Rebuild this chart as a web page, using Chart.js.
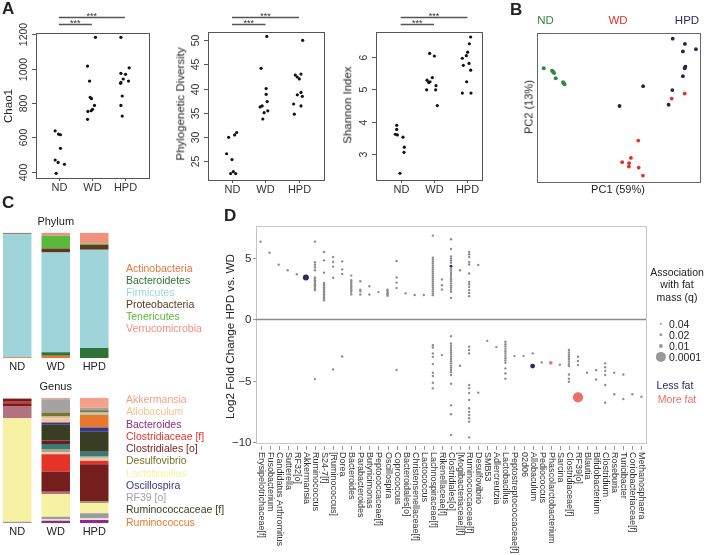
<!DOCTYPE html>
<html>
<head>
<meta charset="utf-8">
<script src="https://cdn.jsdelivr.net/npm/chart.js@4.4.1/dist/chart.umd.min.js"></script>
<style>
  body { margin: 0; background: #fff; }
  #fig { position: relative; width: 704px; height: 555px; overflow: hidden;
         font-family: 'Liberation Sans', Arial, sans-serif; color: #222; }
  #fig canvas { position: absolute; }
  .lbl { position: absolute; white-space: nowrap; line-height: 1; transform: translate(-50%, -50%); }
  .rot { transform: translate(-50%, -50%) rotate(-90deg); }
  .lft { transform: translate(0, -50%); }
  .panel { position: absolute; font-weight: bold; font-size: 17px; line-height: 1; }
</style>
</head>
<body>
<div id="fig">
  <canvas id="chao" width="170" height="195" style="left:0;top:0"></canvas>
  <canvas id="pd" width="165" height="195" style="left:170px;top:0"></canvas>
  <canvas id="shan" width="170" height="195" style="left:335px;top:0"></canvas>
  <canvas id="pca" width="199" height="195" style="left:505px;top:0"></canvas>
  <canvas id="phylum" width="122" height="185" style="left:-2px;top:190px"></canvas>
  <canvas id="genus" width="122" height="185" style="left:-2px;top:370px"></canvas>
  <canvas id="fold" width="514" height="365" style="left:190px;top:190px"></canvas>
</div>
<script>
const groups = ['ND', 'WD', 'HPD'];

// A - alpha diversity, one value per mouse
const chaoND = [638, 619, 615, 536, 468, 454, 443, 390];
const chaoWD = [1183, 1015, 928, 833, 825, 786, 763, 755, 751, 705];
const chaoHPD = [1183, 1005, 973, 967, 940, 928, 920, 915, 841, 786, 724];
const pdND = [29.9, 30.4, 30.9, 26.5, 25.3, 22.4, 22.8, 22.4];
const pdWD = [50.8, 44.2, 40.0, 38.8, 37.3, 36.4, 36.2, 35.4, 35.0, 33.7];
const pdHPD = [50.0, 43.0, 42.8, 42.4, 42.0, 39.2, 38.7, 38.4, 36.8, 36.4, 34.7];
const shanND = [3.89, 3.76, 3.61, 3.59, 3.52, 3.21, 3.05, 2.40];
const shanWD = [6.12, 6.04, 5.37, 5.29, 5.22, 5.24, 5.12, 4.99, 4.99, 4.50];
const shanHPD = [6.63, 6.42, 6.16, 6.05, 5.97, 5.81, 5.75, 5.60, 5.24, 4.89, 4.89];
// horizontal jitter of the dots (group units), as drawn
const chaoJit = [[-0.11, -0.01, 0.05, 0.05, -0.11, -0.02, 0.17, -0.08],
  [0.11, -0.13, -0.07, -0.05, -0.01, 0.08, 0.02, -0.02, -0.12, -0.13],
  [-0.12, 0.13, -0.12, 0.02, -0.05, 0.11, -0.12, -0.13, -0.08, -0.12, -0.08]];
const pdJit = [[-0.1, 0.08, 0.14, -0.16, 0, -0.04, 0.04, 0.11],
  [0.04, -0.13, 0.02, 0.02, 0.05, -0.1, -0.16, 0.07, -0.04, -0.08],
  [0.11, 0.06, -0.11, -0.05, 0.01, 0.06, -0.05, 0.1, -0.16, 0.06, -0.14]];
const shanJit = [[-0.12, -0.12, -0.16, -0.1, 0.07, 0.11, 0.1, -0.02],
  [-0.13, 0.01, -0.05, -0.21, -0.16, -0.12, 0.06, -0.22, 0.05, 0.1],
  [0.1, 0.06, 0.01, -0.03, -0.15, 0.05, -0.12, 0.1, -0.02, -0.15, 0.11]];

// B - PCoA scores
const pcaNDx = [-0.367, -0.326, -0.321, -0.316, -0.308, -0.272, -0.269, -0.265];
const pcaNDy = [0.158, 0.148, 0.144, 0.139, 0.118, 0.102, 0.098, 0.094];
const pcaWDx = [0.261, 0.325, 0.097, 0.061, 0.018, 0.052, 0.051, 0.099, 0.120];
const pcaWDy = [0.036, 0.056, -0.133, -0.203, -0.220, -0.224, -0.238, -0.242, -0.274];
const pcaHPDx = [0.266, 0.326, 0.380, 0.316, 0.328, 0.325, 0.316, 0.121, 0.264, 0.246, 0.005];
const pcaHPDy = [0.277, 0.256, 0.235, 0.226, 0.165, 0.158, 0.126, 0.086, 0.070, 0.011, 0.006];

// C - relative abundance (%)
const phyla = ['Actinobacteria', 'Bacteroidetes', 'Firmicutes', 'Proteobacteria', 'Tenericutes', 'Verrucomicrobia'];
const phylumND = [0.8, 0.2, 98.2, 0.8, 0, 0];
const phylumWD = [2.1, 2.7, 79.5, 3.2, 10.1, 2.4];
const phylumHPD = [0.3, 8.0, 78.2, 4.0, 1.0, 8.5];
const phylumColors = ['#e8763c', '#2f7436', '#9fd4db', '#5b3a1f', '#5cb83b', '#f2907f'];

const genusTaxa = ['Bacteroides', 'Other 1', 'Other 2', 'Lactobacillus', 'Other 3', 'Other 4',
  'Clostridiales [o]', 'Clostridiaceae [f]', 'Other 5', 'Other 6', 'Other 7', 'Other 8',
  'Ruminococcaceae [f]', 'Oscillospira', 'Ruminococcus', 'Allobaculum', 'Other 9',
  'Desulfovibrio', 'RF39 [o]', 'Akkermansia'];
const genusND = [0, 0, 1.3, 82.3, 0, 9.8, 2.1, 1.3, 0, 0, 0, 2.4, 0, 0, 0, 0.8, 0, 0, 0, 0];
const genusWD = [2.1, 1.3, 1.9, 18.0, 0, 1.9, 15.9, 13.8, 1.6, 2.7, 4.0, 2.7, 12.5, 1.9, 0, 3.4, 1.3, 3.2, 10.5, 1.3];
const genusHPD = [2.7, 1.3, 4.0, 8.0, 1.3, 0, 29.8, 2.7, 2.4, 1.3, 3.4, 0, 15.9, 3.4, 10.1, 0, 1.9, 1.9, 1.9, 8.0];
const genusColors = ['#8e2a8e', '#e9e5cf', '#9b9b9b', '#f7f1a4', '#a49c66', '#b3727f',
  '#761d1d', '#e5332a', '#d8cfae', '#aaa385', '#3c7a76', '#6a1c27',
  '#383d24', '#36358a', '#e8782e', '#f6c590', '#c8c3ae', '#76762e', '#a3a3a3', '#f4a08a'];
const genusLegend = ['Akkermansia', 'Allobaculum', 'Bacteroides', 'Clostridiaceae [f]', 'Clostridiales [o]',
  'Desulfovibrio', 'Lactobacillus', 'Oscillospira', 'RF39 [o]', 'Ruminococcaceae [f]', 'Ruminococcus'];

// D - log2 fold change HPD vs WD, one value per OTU
const genera = ['Erysipelotrichaceae[f]', 'Fusobacterium', 'Candidatus Arthromitus', 'Sutterella', 'RF32[o]',
  'Akkermansia', 'Ruminococcus', 'S24-7[f]', '[Ruminococcus]', 'Dorea', 'Bacteroides', 'Parabacteroides',
  'Butyricimonas', 'Peptococcaceae[f]', 'Oscillospira', 'Coprococcus', 'Bacteroidales[o]',
  'Christensenellaceae[f]', 'Lactococcus', 'Lachnospiraceae[f]', 'Rikenellaceae[f]', 'Clostridiales[o]',
  '[Mogibacteriaceae][f]', 'Ruminococcaceae[f]', 'Desulfovibrio', 'SMB53', 'Adlercreutzia', 'Lactobacillus',
  'Peptostreptococcaceae[f]', '02d06', 'Allobaculum', 'Pediococcus', 'Phascolarctobacterium', 'Sarcina',
  'Clostridiaceae[f]', 'RF39[o]', 'Blautia', 'Bifidobacterium', 'Clostridium', 'Roseburia', 'Turicibacter',
  'Coriobacteriaceae[f]', 'Methanosphaera'];
const lfc = [
  [6.3], [5.4], [4.43], [3.97], [3.65], [],
  [6.3, 4.62, 4.43, 4.22, 3.97, 3.38, 3.27, 3.16, 3.06, 2.94, 2.84, 2.73, 2.62, 2.49, 2.35, -4.87],
  [5.46, 4.78, 3.78, 2.94, 2.83, 2.72, 2.6, 2.48, 2.37, 2.25, 2.14, 2.02, 1.9, 1.78, 1.66, 1.54],
  [5.05, 4.65, 4.27, 3.36, -4.08],
  [4.7, 4.05, 3.68, -3.03],
  [3.54, 3.16, 3.03, 2.89, 2.76, 2.62, 2.49, 2.35, 2.22, 2.03],
  [3.08, 2.4, 2.27, 2.0],
  [2.68, 2.0],
  [2.2],
  [2.4, 2.3, 2.2, 2.1, 2.0, 1.9],
  [4.73, 3.38, 2.97, 2.54, -4.12],
  [2.1], [1.97], [1.97],
  [6.79, 5.0, 4.84, 4.68, 4.52, 4.35, 4.19, 4.03, 3.87, 3.71, 3.55, 3.38, 3.22, 3.06, 2.9, 2.74, 2.58,
    2.42, 2.26, 2.1, 1.95, -2.11, -2.3, -2.78, -3.06, -3.65, -4.35, -4.62, -5.16, -5.62],
  [3.22, 2.76, 2.41, -2.92],
  [6.49, 5.7, 5.1, 4.93, 4.76, 4.59, 4.1, 3.93, 3.76, 3.59, 3.42, 3.25, 3.08, 2.91, 2.74, 2.57, 2.4, 2.23,
    1.73, -1.38, -1.97, -2.15, -2.33, -2.51, -2.69, -2.87, -3.05, -3.23, -3.41, -3.59, -3.77, -3.95,
    -4.13, -4.31, -4.54, -5.25, -7.0, -7.73, -9.4],
  [3.97, -3.78],
  [5.46, 5.27, 5.05, 4.65, 4.44, 3.71, 3.03, 2.84, 2.62, 2.35, 2.13, 1.87, -2.24, -2.51, -2.78, -5.35,
    -5.62, -6.0, -6.57, -7.24, -7.52, -7.79, -8.05, -8.33, -9.6],
  [4.4, -5.97],
  [-1.76],
  [-2.27],
  [-1.84, -2.03, -2.22, -2.41, -2.6, -2.79, -2.98, -3.17, -3.36, -3.55, -4.0, -4.41, -4.84],
  [-3.0], [-3.0], [-2.78], [-3.51], [], [-3.7],
  [-2.51, -2.7, -2.89, -3.05, -3.24, -3.43, -3.62, -3.8, -4.5, -4.83, -5.08],
  [-3.05, -3.4, -3.73],
  [-4.35],
  [-4.14, -4.9],
  [-3.59, -3.9, -4.2, -4.54, -5.35, -6.79],
  [-4.35, -6.1],
  [-4.49, -6.49],
  [-6.1],
  [-6.3]
];
const lessFatGenus = ['Akkermansia', 'Clostridiales[o]', 'Allobaculum'];
const lessFatLfc = [3.38, 4.3, -3.81];
const lessFatQ = [0.0025, 0.03, 0.006];
const moreFatGenus = ['Phascolarctobacterium', 'RF39[o]'];
const moreFatLfc = [-3.54, -6.35];
const moreFatQ = [0.015, 0.0001];
const qLegend = [0.04, 0.02, 0.01, 0.0001];

const FONT = '"Liberation Sans", Arial, sans-serif';
const qRadius = q => 1.2 + 1.5 * Math.log10(0.04 / q);
const fig = document.getElementById('fig');

function label(text, x, y, css, cls) {
  const d = document.createElement('div');
  d.className = 'lbl' + (cls ? ' ' + cls : '');
  d.textContent = text;
  d.style.left = x + 'px';
  d.style.top = y + 'px';
  d.style.cssText += css || '';
  fig.appendChild(d);
}
function panel(t, x, y) {
  const d = document.createElement('div');
  d.className = 'panel';
  d.textContent = t;
  d.style.left = x + 'px';
  d.style.top = y + 'px';
  fig.appendChild(d);
}

const base = {
  responsive: false, animation: false, events: [],
  plugins: {legend: {display: false}, tooltip: {enabled: false}}
};

// ---- A ----
function dotAxes(o) {
  return {
    id: 'dotAxes',
    afterDraw(chart) {
      const {ctx, chartArea: a, scales: {x, y}} = chart;
      ctx.save();
      ctx.strokeStyle = '#555';
      ctx.lineWidth = 1;
      ctx.strokeRect(Math.round(a.left) + .5, Math.round(a.top) + .5, Math.round(a.right - a.left), Math.round(a.bottom - a.top));
      ctx.fillStyle = '#333';
      ctx.font = '10.5px ' + FONT;
      ctx.textAlign = 'center';
      ctx.textBaseline = 'middle';
      o.ticks.forEach(v => {
        const py = Math.round(y.getPixelForValue(v)) + .5;
        ctx.beginPath(); ctx.moveTo(a.left - 4, py); ctx.lineTo(a.left, py); ctx.stroke();
        ctx.save();
        ctx.translate(a.left - 12, py);
        ctx.rotate(-Math.PI / 2);
        ctx.fillText(String(v), 0, 0);
        ctx.restore();
      });
      ctx.font = '11px ' + FONT;
      groups.forEach((g, i) => {
        const px = Math.round(x.getPixelForValue(i + 1)) + .5;
        ctx.beginPath(); ctx.moveTo(px, a.bottom); ctx.lineTo(px, a.bottom + 3); ctx.stroke();
        ctx.fillText(g, px, a.bottom + 10);
      });
      // significance brackets
      ctx.strokeStyle = '#555';
      ctx.lineWidth = 1.5;
      ctx.font = '9px ' + FONT;
      ctx.textBaseline = 'alphabetic';
      o.brackets.forEach(([g1, g2, py]) => {
        const x1 = x.getPixelForValue(g1), x2 = x.getPixelForValue(g2);
        ctx.beginPath(); ctx.moveTo(x1, py); ctx.lineTo(x2, py); ctx.stroke();
        ctx.fillText('***', (x1 + x2) / 2, py + 1.5);
      });
      ctx.restore();
    }
  };
}

function dotChart(id, vals, jit, o) {
  const pts = [];
  vals.forEach((arr, g) => arr.forEach((v, i) => pts.push({x: g + 1 + jit[g][i], y: v})));
  new Chart(document.getElementById(id), {
    type: 'scatter',
    data: {datasets: [{data: pts, pointRadius: 1.6, pointBackgroundColor: '#111', pointBorderWidth: 0}]},
    options: {
      ...base,
      layout: {padding: o.pad},
      scales: {
        x: {type: 'linear', display: false, min: o.xMin, max: o.xMax},
        y: {type: 'linear', display: false, min: o.yMin, max: o.yMax}
      }
    },
    plugins: [dotAxes(o)]
  });
}

dotChart('chao', [chaoND, chaoWD, chaoHPD], chaoJit, {
  pad: {left: 36, right: 21, top: 33, bottom: 17}, xMin: 0.31, xMax: 3.73, yMin: 363, yMax: 1208,
  ticks: [400, 600, 800, 1000, 1200], brackets: [[1, 3, 17.5], [1, 2, 24.5]]
});
dotChart('pd', [pdND, pdWD, pdHPD], pdJit, {
  pad: {left: 38, right: 11, top: 32, bottom: 15}, xMin: 0.284, xMax: 3.747, yMin: 21.06, yMax: 51.72,
  ticks: [25, 30, 35, 40, 45, 50], brackets: [[1, 3, 17.5], [1, 2, 24.5]]
});
dotChart('shan', [shanND, shanWD, shanHPD], shanJit, {
  pad: {left: 41, right: 23, top: 32, bottom: 15}, xMin: 0.26, xMax: 3.44, yMin: 2.19, yMax: 6.785,
  ticks: [3, 4, 5, 6], brackets: [[1, 3, 17.5], [1, 2, 24.5]]
});
panel('A', 2, 0);
label('Chao1', 9, 106, 'font-size:11.5px;', 'rot');
label('Phylogenetic Diversity', 181, 104, 'font-size:11.5px;', 'rot');
label('Shannon Index', 348, 105, 'font-size:11.5px;', 'rot');

// ---- B ----
const zip = (xs, ys) => xs.map((v, i) => ({x: v, y: ys[i]}));
const boxPlugin = {
  id: 'box',
  afterDraw(chart) {
    const {ctx, chartArea: a} = chart;
    ctx.save();
    ctx.strokeStyle = '#666';
    ctx.lineWidth = 1;
    ctx.strokeRect(Math.round(a.left) + .5, Math.round(a.top) + .5, Math.round(a.right - a.left), Math.round(a.bottom - a.top));
    ctx.restore();
  }
};
new Chart(document.getElementById('pca'), {
  type: 'scatter',
  data: {datasets: [
    {data: zip(pcaNDx, pcaNDy), pointRadius: 2, pointBackgroundColor: '#2f8a3b', pointBorderWidth: 0},
    {data: zip(pcaWDx, pcaWDy), pointRadius: 1.9, pointBackgroundColor: '#e0302a', pointBorderWidth: 0},
    {data: zip(pcaHPDx, pcaHPDy), pointRadius: 1.9, pointBackgroundColor: '#24244f', pointBorderWidth: 0}
  ]},
  options: {
    ...base,
    layout: {padding: {left: 32, right: 4, top: 33, bottom: 13}},
    scales: {
      x: {type: 'linear', display: false, min: -0.4, max: 0.4},
      y: {type: 'linear', display: false, min: -0.3, max: 0.3}
    }
  },
  plugins: [boxPlugin]
});
panel('B', 510, 1);
label('ND', 545.5, 21, 'font-size:11.5px;color:#2f8a3b;');
label('WD', 618, 21, 'font-size:11.5px;color:#e0302a;');
label('HPD', 687, 21, 'font-size:11.5px;color:#2b2b66;');
label('PC2 (13%)', 529, 107, 'font-size:11px;', 'rot');
label('PC1 (59%)', 618, 189, 'font-size:11px;');

// ---- C ----
function barLabels(title) {
  return {
    id: 'barLabels',
    afterDraw(chart) {
      const {ctx, chartArea: a, scales: {x}} = chart;
      ctx.save();
      ctx.fillStyle = '#222';
      ctx.font = '11px ' + FONT;
      ctx.textAlign = 'center';
      ctx.textBaseline = 'middle';
      groups.forEach((g, i) => ctx.fillText(g, x.getPixelForValue(i), a.bottom + 9));
      ctx.fillText(title, x.getPixelForValue(1), a.top - 11);
      ctx.restore();
    }
  };
}
function stackChart(id, names, nd, wd, hpd, colors, pad, title) {
  new Chart(document.getElementById(id), {
    type: 'bar',
    data: {
      labels: groups,
      datasets: names.map((n, i) => ({
        label: n, data: [nd[i], wd[i], hpd[i]], backgroundColor: colors[i],
        borderWidth: 0, categoryPercentage: 1, barPercentage: 0.74
      }))
    },
    options: {
      ...base,
      layout: {padding: pad},
      scales: {
        x: {stacked: true, display: false},
        y: {stacked: true, display: false, min: 0, max: 100}
      }
    },
    plugins: [barLabels(title)]
  });
}
stackChart('phylum', phyla, phylumND, phylumWD, phylumHPD, phylumColors,
  {left: 0, right: 6.5, top: 42.7, bottom: 16.7}, 'Phylum');
stackChart('genus', genusTaxa, genusND, genusWD, genusHPD, genusColors,
  {left: 0, right: 6.5, top: 27.7, bottom: 31.7}, 'Genus');
panel('C', 2, 194);
phyla.forEach((p, i) => label(p, 126, 267.5 + i * 12.15, 'font-size:10.5px;color:' + phylumColors[i] + ';', 'lft'));
genusLegend.forEach((g, i) => label(g, 126, 399 + i * 12.25,
  'font-size:10.5px;color:' + genusColors[genusTaxa.indexOf(g)] + ';', 'lft'));

// ---- D ----
const foldAxes = {
  id: 'foldAxes',
  beforeDatasetsDraw(chart) {
    const {ctx, chartArea: a, scales: {y}} = chart;
    ctx.save();
    ctx.strokeStyle = '#c6c6c6';
    ctx.lineWidth = 1;
    ctx.strokeRect(Math.round(a.left) + .5, Math.round(a.top) + .5, Math.round(a.right - a.left), Math.round(a.bottom - a.top));
    const y0 = Math.round(y.getPixelForValue(0)) + .5;
    ctx.strokeStyle = '#8a8a8a';
    ctx.lineWidth = 1.3;
    ctx.beginPath(); ctx.moveTo(a.left, y0); ctx.lineTo(a.right, y0); ctx.stroke();
    ctx.restore();
  },
  afterDraw(chart) {
    const {ctx, chartArea: a, scales: {x, y}} = chart;
    ctx.save();
    ctx.strokeStyle = '#999';
    ctx.lineWidth = 1;
    ctx.fillStyle = '#333';
    ctx.font = '11.5px ' + FONT;
    ctx.textAlign = 'right';
    ctx.textBaseline = 'middle';
    [5, 0, -5, -10].forEach(v => {
      const py = Math.round(y.getPixelForValue(v)) + .5;
      ctx.beginPath(); ctx.moveTo(a.left - 3, py); ctx.lineTo(a.left, py); ctx.stroke();
      ctx.fillText(String(v).replace('-', '\u2212'), a.left - 4.5, py);
    });
    ctx.font = '9px ' + FONT;
    ctx.textAlign = 'left';
    genera.forEach((g, i) => {
      const px = Math.round(x.getPixelForValue(i)) + .5;
      ctx.beginPath(); ctx.moveTo(px, a.bottom + 3); ctx.lineTo(px, a.bottom + 7); ctx.stroke();
      ctx.save();
      ctx.translate(px, a.bottom + 9);
      ctx.rotate(Math.PI / 2);
      ctx.fillText(g, 0, 0);
      ctx.restore();
    });
    ctx.font = '11.7px ' + FONT;
    ctx.fillStyle = '#222';
    ctx.textAlign = 'center';
    ctx.save();
    ctx.translate(41, (a.top + a.bottom) / 2 + 2);
    ctx.rotate(-Math.PI / 2);
    ctx.fillText('Log2 Fold Change HPD vs. WD', 0, 0);
    ctx.restore();
    ctx.restore();
  }
};
const grayPts = [];
genera.forEach((g, i) => lfc[i].forEach(v => grayPts.push({x: i, y: v})));
const lessPts = lessFatGenus.map((g, k) => ({x: genera.indexOf(g), y: lessFatLfc[k]}));
const morePts = moreFatGenus.map((g, k) => ({x: genera.indexOf(g), y: moreFatLfc[k]}));
new Chart(document.getElementById('fold'), {
  type: 'scatter',
  data: {datasets: [
    {data: grayPts, pointRadius: qRadius(0.04), pointBackgroundColor: '#8e8e8e', pointBorderWidth: 0},
    {data: lessPts, pointRadius: c => qRadius(lessFatQ[c.dataIndex]), pointBackgroundColor: '#2a2a5c', pointBorderWidth: 0},
    {data: morePts, pointRadius: c => qRadius(moreFatQ[c.dataIndex]), pointBackgroundColor: '#ec6f68', pointBorderWidth: 0}
  ]},
  options: {
    ...base,
    layout: {padding: {left: 66, right: 58, top: 36, bottom: 112}},
    scales: {
      x: {type: 'linear', display: false, min: -0.5, max: genera.length - 0.5},
      y: {type: 'linear', display: false, min: -10.06, max: 7.57}
    }
  },
  plugins: [foldAxes]
});
panel('D', 224, 207);
label('Association', 677, 271.5, 'font-size:10.5px;');
label('with fat', 677, 284, 'font-size:10.5px;');
label('mass (q)', 677, 296.5, 'font-size:10.5px;');
qLegend.forEach((q, i) => {
  const r = qRadius(q);
  const yc = 324 + i * 10.9;
  label('', 661, yc, 'width:' + 2 * r + 'px;height:' + 2 * r + 'px;border-radius:50%;background:#999;');
  label(String(q), 669, yc, 'font-size:10.5px;', 'lft');
});
label('Less fat', 675, 385, 'font-size:10.5px;color:#2a2a5c;');
label('More fat', 677, 398.5, 'font-size:10.5px;color:#ec6f68;');
</script>
</body>
</html>
